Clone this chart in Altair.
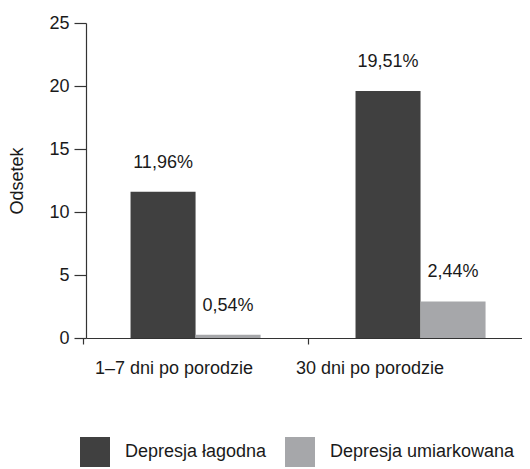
import altair as alt
import pandas as pd

periods = ["1–7 dni po porodzie", "30 dni po porodzie"]
types = ["Depresja łagodna", "Depresja umiarkowana"]
bar_mild = [11.6, 19.6]
bar_moderate = [0.25, 2.9]
labels_mild = ["11,96%", "19,51%"]
labels_moderate = ["0,54%", "2,44%"]
colors = ["#404040", "#a6a7aa"]
y_ticks = [0, 5, 10, 15, 20, 25]

rows = []
for i, p in enumerate(periods):
    rows.append({"period": p, "type": types[0], "value": bar_mild[i], "label": labels_mild[i]})
    rows.append({"period": p, "type": types[1], "value": bar_moderate[i], "label": labels_moderate[i]})
df = pd.DataFrame(rows)

FONT = "Liberation Sans"
FS = 18
TXT = "#1a1a1a"

x_enc = alt.X(
    "period:N",
    sort=periods,
    title=None,
    scale=alt.Scale(paddingInner=0.422, paddingOuter=0.18, align=0.55),
    axis=alt.Axis(
        labelAngle=0,
        tickSize=6,
        tickOffset=-113,
        labelPadding=15,
        labelFontSize=FS,
        labelOffset={"condition": {"test": f"datum.value === '{periods[0]}'", "value": 91}, "value": 62},
    ),
)
xoff = alt.XOffset("type:N", sort=types, scale=alt.Scale(paddingInner=0, paddingOuter=0))
y_enc = alt.Y(
    "value:Q",
    scale=alt.Scale(domain=[0, 25], nice=False),
    title="Odsetek",
    axis=alt.Axis(values=y_ticks, tickSize=12, labelPadding=5, titlePadding=22, grid=False),
)

bars = alt.Chart(df).mark_bar().encode(
    x=x_enc,
    xOffset=xoff,
    y=y_enc,
    color=alt.Color(
        "type:N",
        sort=types,
        scale=alt.Scale(domain=types, range=colors),
        legend=alt.Legend(
            title=None,
            orient="none",
            legendX=-6,
            legendY=414,
            direction="horizontal",
            symbolType="square",
            symbolSize=900,
            symbolStrokeWidth=0,
            symbolOpacity=1,
            labelFontSize=18,
            labelFont=FONT,
            labelColor=TXT,
            labelOffset=15,
            labelLimit=300,
            columnPadding=18,
        ),
    ),
)

texts = alt.Chart(df).mark_text(dy=-24, baseline="alphabetic", fontSize=FS, font=FONT, color=TXT).encode(
    x=x_enc,
    xOffset=xoff,
    y=y_enc,
    text="label:N",
)

chart = (
    alt.layer(bars, texts)
    .properties(
        width=436,
        height=315,
        autosize=alt.AutoSizeParams(type="none"),
        padding={"left": 78, "top": 15, "right": 0, "bottom": 131},
    )
    .configure_view(stroke=None)
    .configure_axis(
        labelFont=FONT,
        titleFont=FONT,
        labelFontSize=FS,
        titleFontSize=FS,
        titleFontWeight="normal",
        labelColor=TXT,
        titleColor=TXT,
        domainColor="#333333",
        tickColor="#333333",
        domainWidth=1.2,
        tickWidth=1.2,
    )
)

chart.save("out.html", embed_options={"renderer": "svg", "actions": False})
